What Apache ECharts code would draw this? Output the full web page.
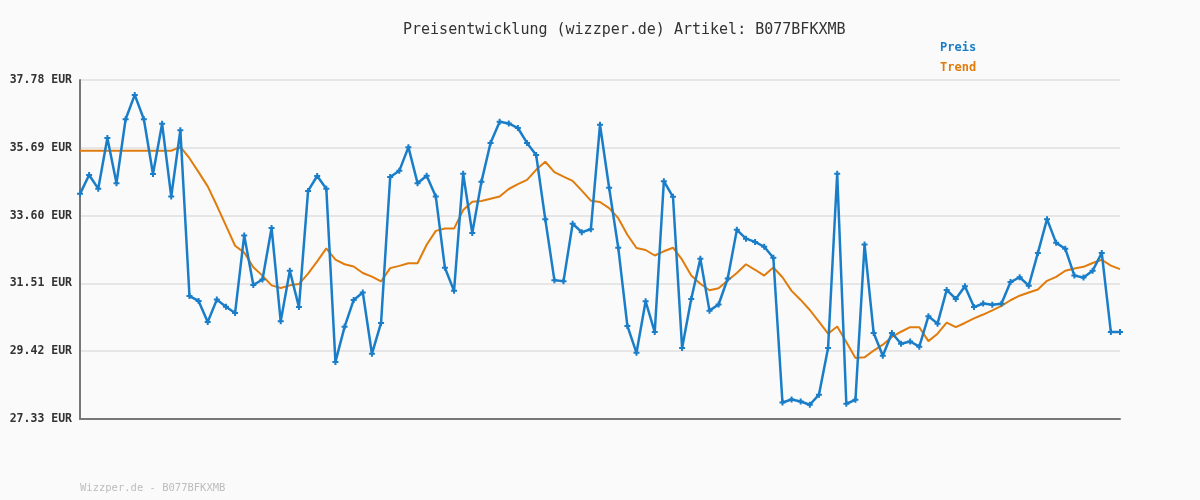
<!DOCTYPE html>
<html>
<head>
<meta charset="utf-8">
<script src="https://cdn.jsdelivr.net/npm/echarts@6/dist/echarts.min.js"></script>
<style>
  html, body { margin: 0; padding: 0; background: #fafafa; }
  #chart { width: 1200px; height: 500px; }
</style>
</head>
<body>
<div id="chart"></div>
<script>
// values
const preis = [
  34.27, 34.85, 34.43, 35.99, 34.60, 36.57, 37.32, 36.57, 34.88, 36.43,
  34.19, 36.23, 31.12, 30.97, 30.32, 31.01, 30.79, 30.60, 32.99, 31.46,
  31.63, 33.22, 30.34, 31.90, 30.78, 34.36, 34.82, 34.43, 29.09, 30.17,
  31.00, 31.23, 29.34, 30.29, 34.79, 34.98, 35.71, 34.60, 34.83, 34.19,
  31.99, 31.28, 34.89, 33.06, 34.64, 35.84, 36.49, 36.44, 36.30, 35.84,
  35.47, 33.49, 31.61, 31.58, 33.35, 33.09, 33.18, 36.40, 34.46, 32.61,
  30.20, 29.37, 30.96, 30.01, 34.66, 34.18, 29.52, 31.03, 32.27, 30.67,
  30.86, 31.66, 33.16, 32.89, 32.79, 32.64, 32.30, 27.84, 27.93, 27.87,
  27.77, 28.08, 29.52, 34.89, 27.80, 27.92, 32.71, 29.98, 29.28, 29.98,
  29.65, 29.72, 29.56, 30.50, 30.27, 31.31, 31.03, 31.42, 30.78, 30.89,
  30.85, 30.88, 31.55, 31.70, 31.44, 32.45, 33.49, 32.76, 32.58, 31.75,
  31.69, 31.90, 32.45, 30.01, 30.01
];

const trend = [
  35.60, 35.60, 35.60, 35.60, 35.60, 35.60, 35.60, 35.60, 35.60, 35.60,
  35.60, 35.72, 35.37, 34.94, 34.50, 33.91, 33.29, 32.67, 32.46, 32.01,
  31.75, 31.45, 31.37, 31.45, 31.49, 31.81, 32.19, 32.59, 32.24, 32.10,
  32.03, 31.83, 31.72, 31.57, 31.98, 32.05, 32.13, 32.13, 32.70, 33.13,
  33.20, 33.20, 33.77, 34.03, 34.05, 34.12, 34.19, 34.42, 34.57, 34.70,
  35.01, 35.26, 34.94, 34.80, 34.67, 34.37, 34.06, 34.02, 33.83, 33.52,
  33.01, 32.60, 32.54, 32.37, 32.50, 32.61, 32.24, 31.75, 31.50, 31.30,
  31.36, 31.60, 31.83, 32.10, 31.93, 31.75, 32.00, 31.70, 31.28, 31.00,
  30.69, 30.33, 29.96, 30.18, 29.70, 29.21, 29.23, 29.44, 29.62, 29.86,
  30.02, 30.16, 30.16, 29.73, 29.96, 30.30, 30.16, 30.29, 30.43, 30.55,
  30.68, 30.82, 30.99, 31.13, 31.23, 31.32, 31.59, 31.71, 31.90, 31.97,
  32.02, 32.14, 32.24, 32.06, 31.95
];

// y axis range shown on the chart
const yMin = 27.33;
const yMax = 37.78;
const yStep = 2.09;

const titleText = 'Preisentwicklung (wizzper.de) Artikel: B077BFKXMB';
const footerText = 'Wizzper.de - B077BFKXMB';

const days = [];
for (let i = 1; i <= preis.length; i++) days.push(String(i));

const mono = 'DejaVu Sans Mono';
const blue = '#1a7dc8';
const orange = '#e07c0c';

const chart = echarts.init(document.getElementById('chart'), null, {renderer: 'canvas'});

chart.setOption({
  animation: false,
  backgroundColor: '#fafafa',
  title: [
    {
      text: titleText,
      left: 398,
      top: 18,
      textStyle: {fontFamily: mono, fontSize: 15, fontWeight: 'normal', color: '#333'}
    },
    {
      text: footerText,
      left: 75,
      top: 478,
      textStyle: {fontFamily: mono, fontSize: 10.5, fontWeight: 'normal', color: '#bdbdbd'}
    }
  ],
  legend: {
    orient: 'vertical',
    left: 932,
    top: 36,
    itemGap: 7,
    icon: 'none',
    itemWidth: 0,
    itemHeight: 14,
    selectedMode: false,
    textStyle: {fontFamily: mono, fontSize: 12, fontWeight: 'bold', padding: [0, 0, 0, -2]},
    data: [
      {name: 'Preis', textStyle: {color: blue}},
      {name: 'Trend', textStyle: {color: orange}}
    ]
  },
  grid: {left: 80, right: 80, top: 80, bottom: 81},
  xAxis: {
    type: 'category',
    data: days,
    boundaryGap: false,
    axisLine: {lineStyle: {color: '#777', width: 2}},
    axisTick: {show: false},
    axisLabel: {show: false},
    splitLine: {show: false}
  },
  yAxis: [
    {
      // scale for the data
      type: 'value',
      min: yMin,
      max: yMax,
      axisLine: {show: false},
      axisTick: {show: false},
      axisLabel: {show: false},
      splitLine: {show: false}
    },
    {
      // labels and grid lines, counted from the bottom of the range
      type: 'value',
      position: 'left',
      min: 0,
      max: +(yMax - yMin).toFixed(2),
      interval: yStep,
      axisLine: {show: true, lineStyle: {color: '#777', width: 2}},
      axisTick: {show: false},
      axisLabel: {
        fontFamily: mono,
        fontSize: 11.5,
        fontWeight: 'bold',
        color: '#333',
        margin: 8,
        formatter: v => (v + yMin).toFixed(2) + ' EUR'
      },
      splitLine: {lineStyle: {color: '#e6e6e6', width: 2}}
    }
  ],
  series: [
    {
      name: 'Trend',
      type: 'line',
      data: trend,
      yAxisIndex: 0,
      symbol: 'none',
      lineStyle: {color: orange, width: 2},
      itemStyle: {color: orange},
      z: 2
    },
    {
      name: 'Preis',
      type: 'line',
      data: preis,
      yAxisIndex: 0,
      symbol: 'path://M2,0 H4 V2 H6 V4 H4 V6 H2 V4 H0 V2 H2 Z',
      symbolSize: 6,
      showAllSymbol: true,
      lineStyle: {color: blue, width: 2.5},
      itemStyle: {color: blue},
      z: 3
    }
  ]
});
</script>
</body>
</html>
